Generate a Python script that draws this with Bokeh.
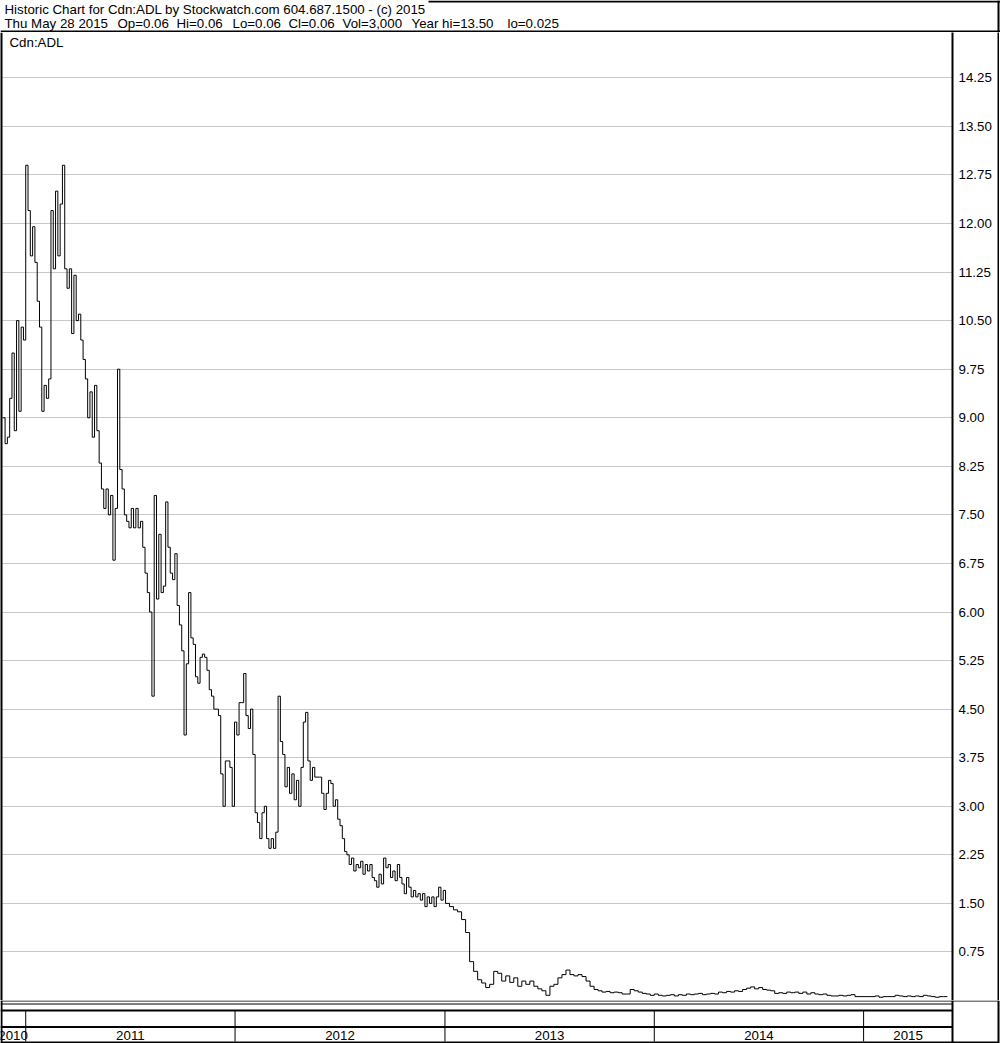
import pandas as pd
from bokeh.plotting import figure
from bokeh.models import (Range1d, FixedTicker, NumeralTickFormatter, Span, Label,
                          ColumnDataSource)
from bokeh.layouts import column, row
from bokeh.core.properties import value
from bokeh.embed import file_html
from bokeh.resources import INLINE

# ---------------- data ----------------
TITLE = "Historic Chart for Cdn:ADL by Stockwatch.com 604.687.1500 - (c) 2015"
QUOTE_FIELDS = ["Thu May 28 2015", "Op=0.06", "Hi=0.06", "Lo=0.06", "Cl=0.06",
                "Vol=3,000", "Year hi=13.50", "lo=0.025"]
SYMBOL = "Cdn:ADL"

price_ticks = [0.75, 1.50, 2.25, 3.00, 3.75, 4.50, 5.25, 6.00, 6.75, 7.50,
               8.25, 9.00, 9.75, 10.50, 11.25, 12.00, 12.75, 13.50, 14.25]

years = ["2010", "2011", "2012", "2013", "2014", "2015"]
year_starts = ["2011-01-01", "2012-01-01", "2013-01-01", "2014-01-01", "2015-01-01"]

# closes every 4 days, from 2010-11-22 to end of 2012
early_start = "2010-11-22"
early_close = [
    9.0, 8.6, 8.7, 9.3, 10.0, 8.8, 10.5, 9.1, 10.4, 10.2,
    12.9, 12.2, 11.5, 11.95, 11.4, 10.8, 10.4, 9.1, 9.5, 9.3,
    9.6, 12.2, 11.3, 12.5, 11.5, 12.3, 12.9, 11.3, 11.0, 11.3,
    10.3, 11.2, 10.5, 10.6, 10.2, 9.9, 9.6, 9.0, 9.4, 8.7,
    9.5, 8.8, 8.3, 7.9, 7.6, 7.9, 7.5, 7.8, 6.8, 7.6,
    9.75, 8.2, 7.9, 7.5, 7.4, 7.3, 7.6, 7.3, 7.6, 7.3,
    7.4, 7.0, 6.6, 6.3, 6.0, 4.7, 7.8, 6.2, 7.2, 6.3,
    6.4, 7.7, 7.0, 6.6, 6.5, 6.9, 6.1, 5.8, 5.4, 4.1,
    5.2, 6.3, 5.6, 5.5, 5.0, 4.9, 5.3, 5.35, 5.3, 5.1,
    4.8, 4.7, 4.5, 4.5, 4.4, 3.5, 3.0, 3.7, 3.7, 3.6,
    3.0, 4.3, 4.1, 4.6, 4.6, 5.05, 4.4, 4.2, 4.5, 3.8,
    2.9, 2.75, 2.5, 2.9, 3.0, 2.5, 2.35, 2.5, 2.35, 2.6,
    4.7, 4.0, 3.8, 3.3, 3.6, 3.2, 3.5, 3.1, 3.4, 3.0,
    3.6, 4.3, 4.45, 3.7, 3.4, 3.6, 3.45, 3.45, 3.45, 3.2,
    2.95, 3.2, 3.4, 3.35, 3.0, 3.1, 2.8, 2.7, 2.5, 2.3,
    2.25, 2.1, 2.2, 2.0, 2.1, 2.05, 2.15, 1.95, 2.1, 2.0,
    2.1, 1.9, 1.85, 1.75, 1.95, 1.8, 2.2, 2.05, 2.1, 1.9,
    2.0, 1.85, 2.1, 1.9, 1.8, 1.65, 1.9, 1.75, 1.6, 1.7,
    1.6, 1.65, 1.55, 1.65, 1.45, 1.6, 1.5, 1.6, 1.45, 1.6,
    1.75, 1.55, 1.7,
]

# weekly closes from 2013-01-02 to May 2015
late_start = "2013-01-02"
late_close = [
    1.5, 1.45, 1.4, 1.37, 1.25, 1.05, 0.6, 0.45, 0.32, 0.27,
    0.2, 0.25, 0.45, 0.42, 0.3, 0.38, 0.28, 0.35, 0.22, 0.3,
    0.25, 0.3, 0.22, 0.18, 0.15, 0.08, 0.22, 0.25, 0.35, 0.4,
    0.47, 0.4, 0.38, 0.4, 0.37, 0.3, 0.22, 0.17, 0.15, 0.13,
    0.14, 0.12, 0.13, 0.12, 0.1, 0.1, 0.17, 0.15, 0.13, 0.11,
    0.1, 0.08, 0.1, 0.08, 0.07, 0.08, 0.09, 0.07, 0.09, 0.08,
    0.1, 0.09, 0.1, 0.11, 0.09, 0.1, 0.11, 0.1, 0.13, 0.12,
    0.14, 0.13, 0.15, 0.14, 0.17, 0.19, 0.21, 0.18, 0.2, 0.17,
    0.16, 0.15, 0.11, 0.12, 0.11, 0.13, 0.12, 0.13, 0.11, 0.13,
    0.1, 0.12, 0.1, 0.09, 0.1, 0.08, 0.07, 0.07, 0.08, 0.07,
    0.08, 0.09, 0.06, 0.06, 0.06, 0.06, 0.06, 0.07, 0.05, 0.06,
    0.06, 0.06, 0.08, 0.07, 0.06, 0.07, 0.06, 0.07, 0.06, 0.08,
    0.07, 0.06, 0.05, 0.06, 0.06, 0.06,
]

# ---------------- layout ----------------
W = 1000
HEAD_H = 32
MAIN_H = 968
FOOT_H = 43
MAIN_W = 997
FRAME_W = 952
RB = 998            # centre of the right border line (px)
FONT = "Liberation Sans"
FS = "13.3px"

x_start = pd.Timestamp("2010-11-18")
x_end = pd.Timestamp("2015-06-05")
x_end_full = x_end + (x_end - x_start) * (W - FRAME_W) / FRAME_W


def ms(ts):
    return pd.Timestamp(ts).value / 1e6


dates = list(pd.date_range(early_start, periods=len(early_close), freq="4D")) + \
        list(pd.date_range(late_start, periods=len(late_close), freq="7D"))
closes = early_close + late_close
src = ColumnDataSource(data=dict(date=dates, close=closes))


def bare(fig):
    fig.xgrid.visible = False
    fig.ygrid.visible = False
    return fig


# ---- header ----
h = bare(figure(width=W, height=HEAD_H, x_range=Range1d(0, W), y_range=Range1d(HEAD_H, 0),
                toolbar_location=None, output_backend="svg", min_border=0,
                x_axis_location=None, y_axis_location=None, outline_line_color=None,
                frame_align=False))
h.segment(x0=[428, RB, 0], y0=[1, 0, 31], x1=[W, RB, W], y1=[1, HEAD_H, 31],
          line_color="black", line_width=2)
h.add_layout(Label(x=4, y=8.5, text=TITLE, text_font=FONT, text_font_size=FS,
                   text_color="black", text_baseline="alphabetic"))
field_x = [4, 117, 176, 232, 288, 342, 411, 507]
for fx, ft in zip(field_x, QUOTE_FIELDS):
    h.add_layout(Label(x=fx, y=23, text=ft, text_font=FONT, text_font_size=FS,
                       text_color="black", text_baseline="alphabetic"))

# ---- main price chart ----
p = figure(width=MAIN_W, height=MAIN_H, x_axis_type="datetime",
           x_range=Range1d(x_start, x_end), y_range=Range1d(0, 14.95),
           x_axis_location=None, y_axis_location="right",
           toolbar_location=None, output_backend="svg",
           min_border_left=0, min_border_top=0, min_border_bottom=0,
           min_border_right=MAIN_W - FRAME_W, outline_line_color=None,
           background_fill_color="white", border_fill_color="white",
           frame_align=False)
p.xgrid.visible = False
ax = p.yaxis[0]
ax.ticker = FixedTicker(ticks=price_ticks)
ax.formatter = NumeralTickFormatter(format="0.00")
ax.major_label_text_font = FONT
ax.major_label_text_font_size = FS
ax.major_label_text_color = "black"
ax.major_tick_line_color = None
ax.minor_tick_line_color = None
ax.axis_line_color = "black"
ax.axis_line_width = 2
ax.major_label_standoff = 0
p.ygrid.ticker = FixedTicker(ticks=price_ticks)
p.ygrid.grid_line_color = "#c8c8c8"
p.ygrid.grid_line_width = 1

p.step(x="date", y="close", source=src, mode="after", line_color="black", line_width=1)

p.add_layout(Span(location=ms(x_start), dimension="height", line_color="black", line_width=4))
p.add_layout(Label(x=9, y=MAIN_H - 9.5, x_units="screen", y_units="screen", text=SYMBOL,
                   text_font=FONT, text_font_size=FS, text_color="black",
                   text_baseline="alphabetic"))

# right border strip next to the price axis
strip = figure(width=2, height=MAIN_H, x_range=Range1d(0, 1), y_range=Range1d(0, 1),
               toolbar_location=None, output_backend="svg", min_border=0,
               x_axis_location=None, y_axis_location=None, outline_line_color=None,
               background_fill_color="black", border_fill_color="black",
               frame_align=False)
bare(strip)

# ---- bottom year band ----
f = bare(figure(width=W, height=FOOT_H, x_axis_type="datetime",
                x_range=Range1d(x_start, x_end_full), y_range=Range1d(FOOT_H, 0),
                toolbar_location=None, output_backend="svg", min_border=0,
                x_axis_location=None, y_axis_location=None, outline_line_color=None,
                frame_align=False))
f.extra_x_ranges = {"px": Range1d(0, W)}
# thin double line under the price area
f.segment(x0=[0, 0], y0=[0.5, 3.5], x1=[RB, FRAME_W], y1=[0.5, 3.5],
          x_range_name="px", line_color="black", line_width=1)
# thick band lines and borders
f.segment(x0=[0, 0, 0, FRAME_W, RB, 1], y0=[10, 26.5, 42, 0, 0, 0],
          x1=[FRAME_W, FRAME_W, RB, FRAME_W, RB, 1], y1=[10, 26.5, 42, FOOT_H, FOOT_H, FOOT_H],
          x_range_name="px", line_color="black", line_width=2)
ys = [pd.Timestamp(d) for d in year_starts]
f.segment(x0=ys, y0=[10] * len(ys), x1=ys, y1=[41] * len(ys), line_color="black", line_width=1)
bounds = [x_start] + ys + [x_end]
mids = [bounds[i] + (bounds[i + 1] - bounds[i]) / 2 for i in range(len(years))]
f.text(x=mids, y=[34.8] * len(years), text=years, text_align="center",
       text_baseline="alphabetic", text_font=value(FONT), text_font_size=value(FS),
       text_color="black")

layout = column(h, row(p, strip, spacing=0), f, spacing=0)
open("out.html", "w").write(file_html(layout, INLINE, title="Cdn:ADL historic chart"))
